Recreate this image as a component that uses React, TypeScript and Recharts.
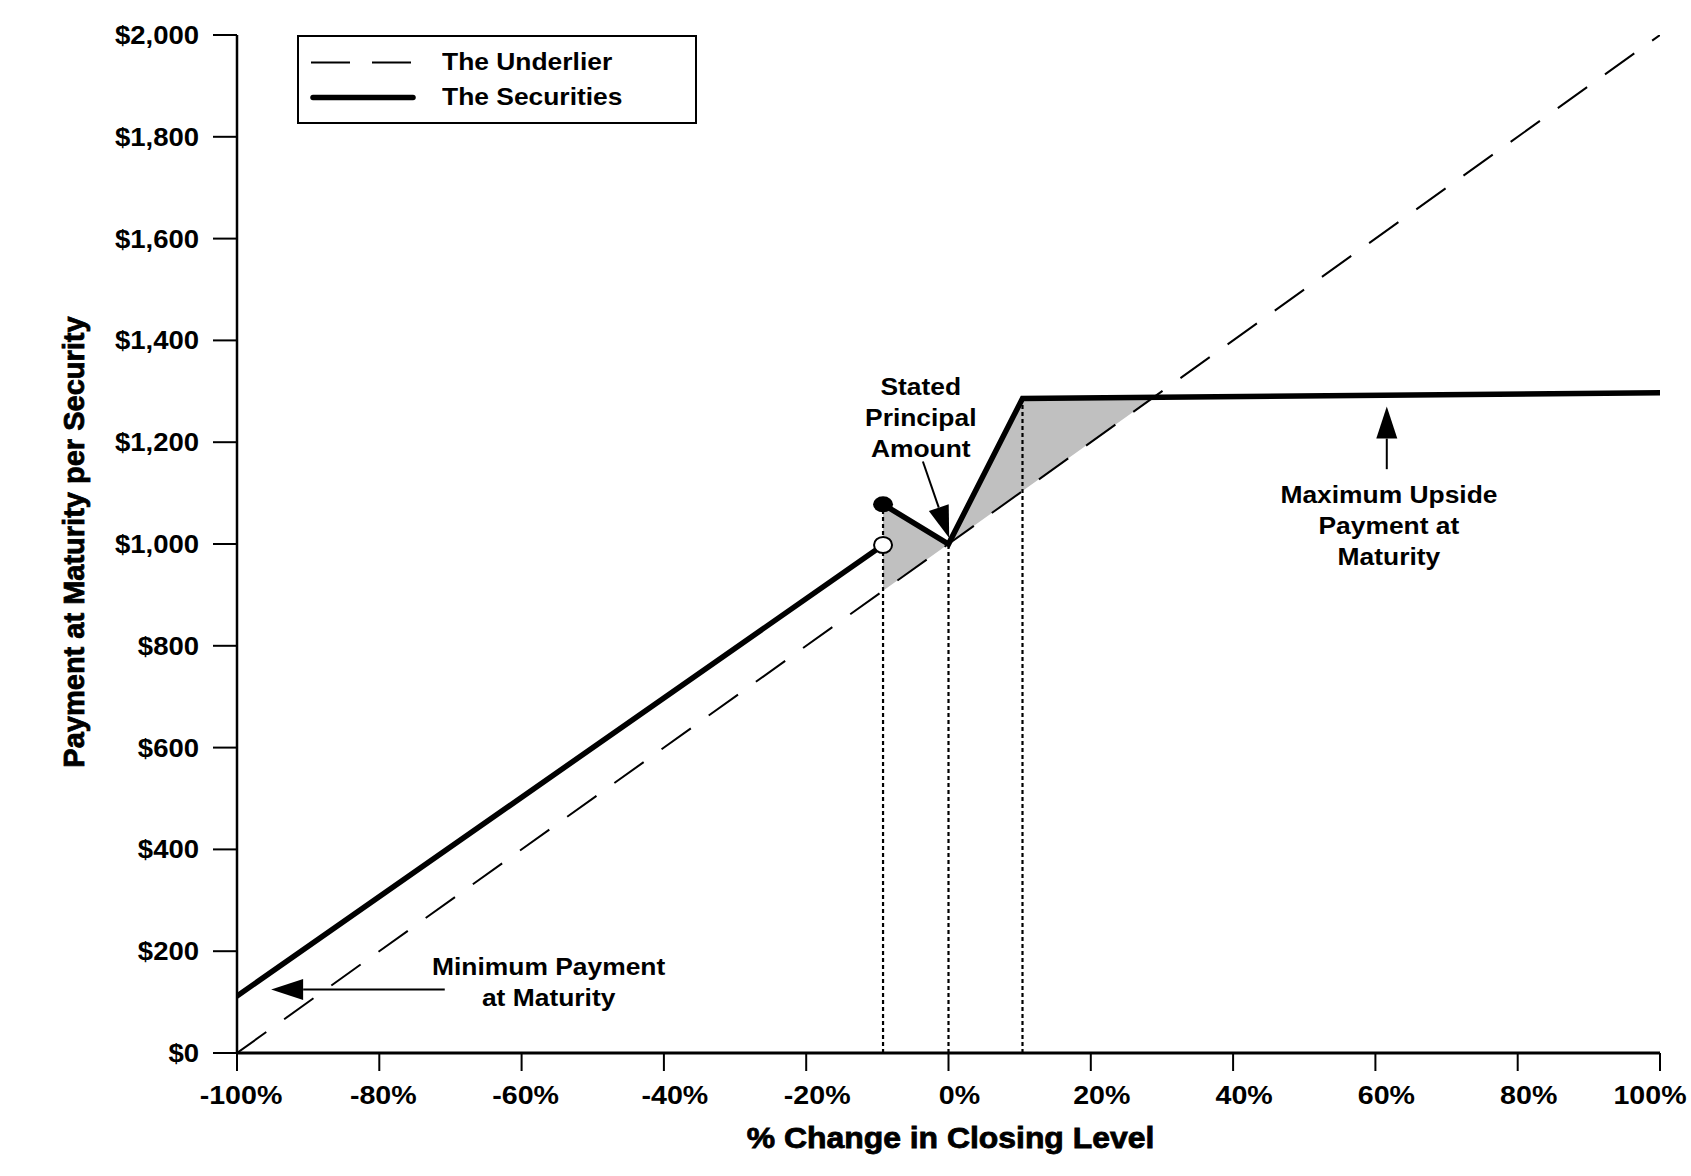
import React from "react";
import {
  ComposedChart,
  Line,
  Area,
  XAxis,
  YAxis,
  ReferenceLine,
  ReferenceDot,
  Legend,
} from "recharts";

// Look of the reference
const FONT = "'Liberation Sans', Arial, Helvetica, sans-serif";
const INK = "#000000";
const SHADE = "#c0c0c0";
const SX = 1.1; // reference text is drawn a little wide

// Axis ticks
const xTicks = [-100, -80, -60, -40, -20, 0, 20, 40, 60, 80, 100];
const yTicks = [0, 200, 400, 600, 800, 1000, 1200, 1400, 1600, 1800, 2000];

// Series (x = % change in closing level, value = payment in $)
const underlier = [
  { pct: -100, value: 0 },
  { pct: 100, value: 2000 },
];
const securitiesBelow = [
  { pct: -100, value: 112 },
  { pct: -9.2, value: 998 },
];
const securitiesAbove = [
  { pct: -9.2, value: 1078 },
  { pct: 0, value: 1000 },
  { pct: 10.4, value: 1286 },
  { pct: 100, value: 1297 },
];
// grey band where the securities beat the underlier
const outperformance = [
  { pct: -9.2, band: [908, 1078] },
  { pct: 0, band: [1000, 1000] },
  { pct: 10.4, band: [1104, 1286] },
  { pct: 28.7, band: [1287, 1287] },
];
const dropLines = [
  { pct: -9.2, value: 1078 },
  { pct: 0, value: 1000 },
  { pct: 10.4, value: 1286 },
];

// Annotations
const notes = [
  { pct: -3.9, value: 1309, lines: ["Stated", "Principal", "Amount"] },
  { pct: 61.9, value: 1098, lines: ["Maximum Upside", "Payment at", "Maturity"] },
  { pct: -56.2, value: 171, lines: ["Minimum Payment", "at Maturity"] },
];
const arrows = [
  { from: { pct: -3.6, value: 1162 }, to: { pct: 0.1, value: 1012 } },
  { from: { pct: 61.6, value: 1147 }, to: { pct: 61.6, value: 1270 } },
  { from: { pct: -70.8, value: 125 }, to: { pct: -95.2, value: 125 } },
];

const YTick = (props: any) => {
  const { x, y, payload } = props;
  return (
    <text
      transform={`translate(${x},${y}) scale(${SX},1)`}
      dy="0.36em"
      textAnchor="end"
      fontFamily={FONT}
      fontSize={25}
      fontWeight="bold"
      fill={INK}
    >
      {`$${Number(payload.value).toLocaleString("en-US")}`}
    </text>
  );
};

const XTick = (props: any) => {
  const { x, y, payload } = props;
  const v = payload.value;
  // labels sit a bit right of their ticks in the reference
  const dx = v === 100 ? -10 : v <= -60 ? 4 : 11;
  return (
    <text
      transform={`translate(${x + dx},${y}) scale(${SX},1)`}
      dy="0.72em"
      textAnchor="middle"
      fontFamily={FONT}
      fontSize={26}
      fontWeight="bold"
      fill={INK}
    >
      {`${v}%`}
    </text>
  );
};

const XTitle = (props: any) => {
  const vb = props.viewBox || { x: 237, y: 1053, width: 1423 };
  return (
    <text
      transform={`translate(${vb.x + vb.width / 2 + 2},${vb.y + 95}) scale(${SX},1)`}
      textAnchor="middle"
      fontFamily={FONT}
      fontSize={29}
      fontWeight="bold"
      fill={INK}
      stroke={INK}
      strokeWidth={0.8}
    >
      % Change in Closing Level
    </text>
  );
};

const YTitle = (props: any) => {
  const vb = props.viewBox || { y: 35, height: 1018 };
  return (
    <text
      transform={`translate(84,${vb.y + vb.height / 2 - 2}) rotate(-90)`}
      textAnchor="middle"
      fontFamily={FONT}
      fontSize={29}
      fontWeight="bold"
      fill={INK}
      stroke={INK}
      strokeWidth={0.8}
    >
      Payment at Maturity per Security
    </text>
  );
};

const Note = ({ cx, cy, lines }: any) => (
  <g>
    {lines.map((t: string, i: number) => (
      <text
        key={t}
        transform={`translate(${cx},${cy + i * 31}) scale(${SX},1)`}
        dy="0.36em"
        textAnchor="middle"
        fontFamily={FONT}
        fontSize={24}
        fontWeight="bold"
        fill={INK}
      >
        {t}
      </text>
    ))}
  </g>
);

const Arrow = (props: any) => {
  const { x1, y1, x2, y2 } = props;
  const len = Math.hypot(x2 - x1, y2 - y1) || 1;
  const ux = (x2 - x1) / len;
  const uy = (y2 - y1) / len;
  const head = 32;
  const half = 10.5;
  const bx = x2 - ux * head;
  const by = y2 - uy * head;
  return (
    <g>
      <line x1={x1} y1={y1} x2={bx} y2={by} stroke={INK} strokeWidth={2} />
      <polygon
        points={`${x2},${y2} ${bx - uy * half},${by + ux * half} ${bx + uy * half},${by - ux * half}`}
        fill={INK}
      />
    </g>
  );
};

const LegendBox = () => (
  <div
    style={{
      width: 396,
      height: 85,
      border: `2px solid ${INK}`,
      background: "#fff",
      position: "relative",
      fontFamily: FONT,
      fontSize: 24,
      fontWeight: "bold",
      color: INK,
    }}
  >
    <svg width={120} height={85} style={{ position: "absolute", left: 10, top: 0 }}>
      <line x1={2} y1={25.5} x2={102} y2={25.5} stroke={INK} strokeWidth={2} strokeDasharray="39 22" />
      <line x1={4} y1={60.5} x2={104} y2={60.5} stroke={INK} strokeWidth={5.5} strokeLinecap="round" />
    </svg>
    {["The Underlier", "The Securities"].map((t, i) => (
      <span
        key={t}
        style={{
          position: "absolute",
          left: 143,
          top: 12 + i * 35,
          lineHeight: "26px",
          whiteSpace: "nowrap",
          transform: `scaleX(${SX})`,
          transformOrigin: "left center",
        }}
      >
        {t}
      </span>
    ))}
  </div>
);

export default function App() {
  return (
    <div style={{ position: "absolute", left: 0, top: 0, width: 1691, height: 1176, background: "#fff" }}>
      <ComposedChart width={1691} height={1176} margin={{ top: 35, right: 31, bottom: 0, left: 0 }}>
        <XAxis
          type="number"
          dataKey="pct"
          domain={[-100, 100]}
          ticks={xTicks}
          interval={0}
          height={123}
          tickSize={18}
          tickMargin={14}
          tick={<XTick />}
          axisLine={{ stroke: INK, strokeWidth: 3 }}
          tickLine={{ stroke: INK, strokeWidth: 2 }}
          label={(p: any) => <XTitle {...p} />}
          allowDataOverflow
        />
        <YAxis
          type="number"
          domain={[0, 2000]}
          ticks={yTicks}
          interval={0}
          width={237}
          tickSize={24}
          tickMargin={14}
          tick={<YTick />}
          axisLine={{ stroke: INK, strokeWidth: 2.5 }}
          tickLine={{ stroke: INK, strokeWidth: 2 }}
          label={(p: any) => <YTitle {...p} />}
          allowDataOverflow
        />
        <Legend
          layout="horizontal"
          verticalAlign="middle"
          align="center"
          content={() => <LegendBox />}
          wrapperStyle={{ left: 297, top: 35, width: 400, height: 89 }}
        />

        <Area
          data={outperformance}
          dataKey="band"
          type="linear"
          stroke="none"
          fill={SHADE}
          fillOpacity={1}
          dot={false}
          activeDot={false}
          isAnimationActive={false}
        />

        <Line
          data={underlier}
          dataKey="value"
          type="linear"
          stroke={INK}
          strokeWidth={2}
          strokeDasharray="36 22"
          dot={false}
          activeDot={false}
          isAnimationActive={false}
        />

        {dropLines.map((d) => (
          <ReferenceLine
            key={`drop-${d.pct}`}
            segment={[
              { x: d.pct, y: 0 },
              { x: d.pct, y: d.value },
            ]}
            stroke={INK}
            strokeWidth={2.2}
            strokeDasharray="4 3"
          />
        ))}

        <Line
          data={securitiesBelow}
          dataKey="value"
          type="linear"
          stroke={INK}
          strokeWidth={5.5}
          strokeLinecap="round"
          dot={false}
          activeDot={false}
          isAnimationActive={false}
        />
        <Line
          data={securitiesAbove}
          dataKey="value"
          type="linear"
          stroke={INK}
          strokeWidth={5.5}
          strokeLinecap="round"
          dot={false}
          activeDot={false}
          isAnimationActive={false}
        />

        {arrows.map((a, i) => (
          <ReferenceLine
            key={`arrow-${i}`}
            segment={[
              { x: a.from.pct, y: a.from.value },
              { x: a.to.pct, y: a.to.value },
            ]}
            shape={(p: any) => <Arrow {...p} />}
          />
        ))}

        {notes.map((n) => (
          <ReferenceDot
            key={n.lines[0]}
            x={n.pct}
            y={n.value}
            r={1}
            shape={(p: any) => <Note cx={p.cx} cy={p.cy} lines={n.lines} />}
          />
        ))}

        <ReferenceDot
          x={securitiesAbove[0].pct}
          y={securitiesAbove[0].value}
          r={9}
          shape={(p: any) => <ellipse cx={p.cx} cy={p.cy} rx={10} ry={8} fill={INK} />}
        />
        <ReferenceDot
          x={securitiesBelow[1].pct}
          y={securitiesBelow[1].value}
          r={9}
          shape={(p: any) => (
            <ellipse cx={p.cx} cy={p.cy} rx={9} ry={8} fill="#fff" stroke={INK} strokeWidth={2} />
          )}
        />
      </ComposedChart>
    </div>
  );
}
